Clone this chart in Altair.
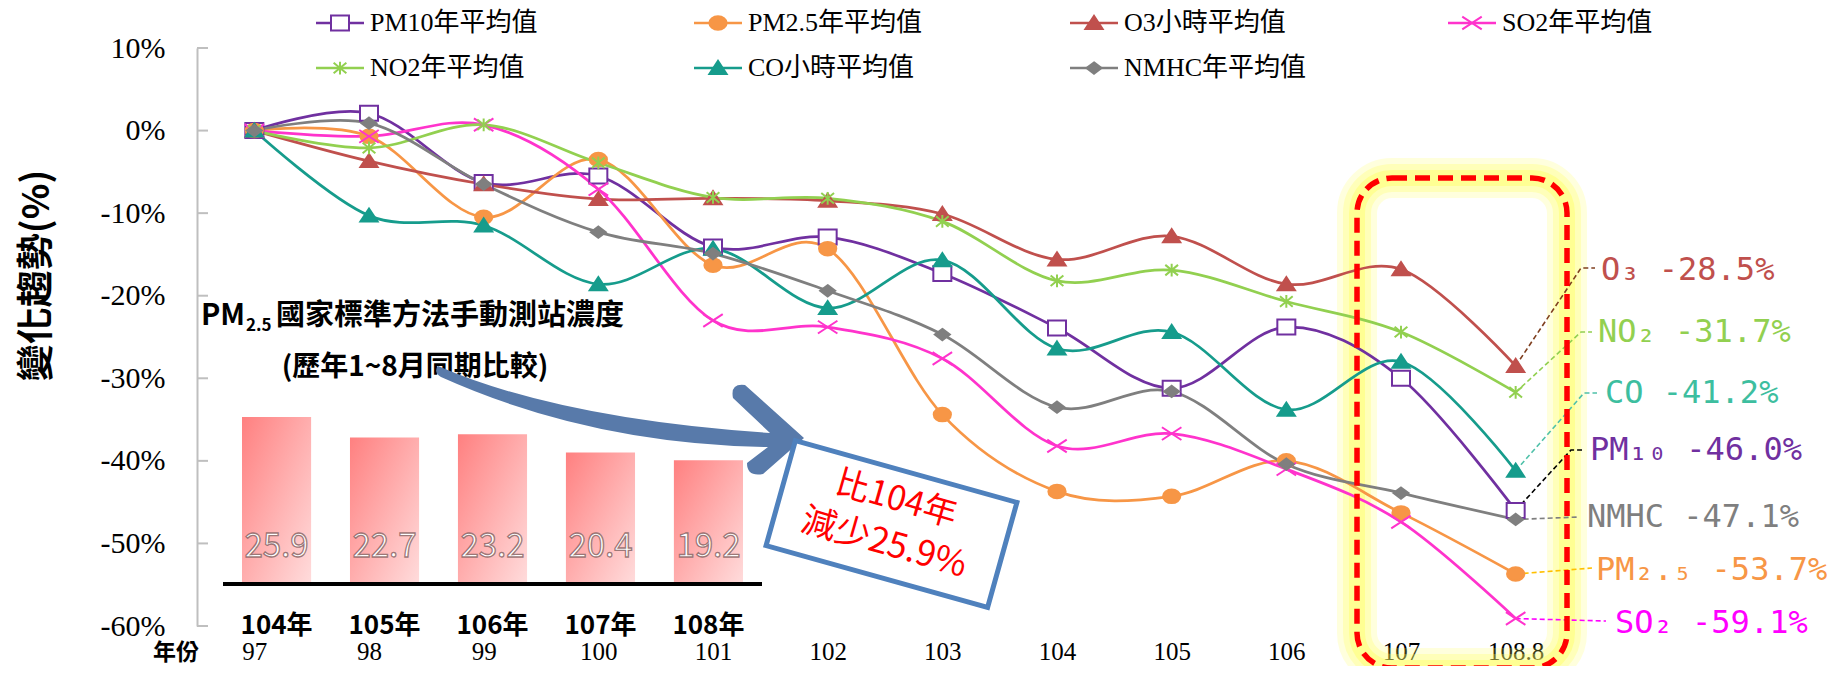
import math
import altair as alt
import pandas as pd

# ---------------- data ----------------
years = ["97", "98", "99", "100", "101", "102", "103", "104", "105", "106", "107", "108.8"]
series_names = ["PM10年平均值", "PM2.5年平均值", "O3小時平均值", "SO2年平均值",
                "NO2年平均值", "CO小時平均值", "NMHC年平均值"]
short_names = ["PM₁₀", "PM₂.₅", "O₃", "SO₂", "NO₂", "CO", "NMHC"]

pm10 = [0, 2.1, -6.3, -5.5, -14.1, -12.9, -17.3, -23.9, -31.2, -23.8, -30.0, -46.0]
pm25 = [0, -0.7, -10.5, -3.5, -16.3, -14.3, -34.4, -43.7, -44.3, -40.0, -46.3, -53.7]
o3 = [0, -3.7, -6.5, -8.3, -8.2, -8.5, -10.1, -15.6, -12.8, -18.6, -16.8, -28.5]
so2 = [0, -0.7, 0.7, -7.1, -23.0, -23.8, -27.6, -38.2, -36.7, -41.0, -47.4, -59.1]
no2 = [0, -2.1, 0.7, -3.9, -8.1, -8.2, -11.0, -18.2, -16.9, -20.7, -24.4, -31.7]
co = [0, -10.3, -11.5, -18.6, -14.3, -21.5, -15.7, -26.4, -24.4, -33.8, -28.0, -41.2]
nmhc = [0, 0.9, -6.5, -12.3, -14.9, -19.4, -24.7, -33.5, -31.6, -40.4, -43.9, -47.1]
series_values = [pm10, pm25, o3, so2, no2, co, nmhc]

bar_years = ["104年", "105年", "106年", "107年", "108年"]
bar_values = [25.9, 22.7, 23.2, 20.4, 19.2]

y_ticks = [10, 0, -10, -20, -30, -40, -50, -60]

# ---------------- styles / layout ----------------
SERIF = "Liberation Serif, Noto Sans CJK TC"
CJK = "Noto Sans CJK TC"
MONO = "DejaVu Sans Mono"

line_colors = ["#7030A0", "#F79646", "#C0504D", "#FF33CC", "#92D050", "#169C8C", "#7F7F7F"]
label_colors = ["#7030A0", "#F79646", "#C0504D", "#FF00FF", "#92D050", "#3DBE9F", "#7F7F7F"]
leader_colors = ["#000000", "#FFC000", "#7F3F1F", "#FF00FF", "#92D050", "#4FC1A9", "#7F7F7F"]
marker_kinds = ["square", "circle", "tri", "x", "star", "tri", "diamond"]

X0, Y0 = 197, 48          # plot origin on the page
PW, PH = 1376, 578        # plot size


def px2idx(px):
    return -0.5 + (px - X0) / PW * 12


def py2v(py):
    return 10 - (py - Y0) / PH * 70


def f(n):
    return f"{n:.2f}"


def marker(kind):
    if kind == "square":
        return "M-1.2,-1H1.2V1H-1.2Z"
    if kind == "circle":
        return "M-1.15,0A1.15,0.9,0,1,0,1.15,0A1.15,0.9,0,1,0,-1.15,0Z"
    if kind == "tri":
        return "M0,-0.95L1.15,0.8H-1.15Z"
    if kind == "x":
        return "M-1.3,-0.85L1.3,0.85M-1.3,0.85L1.3,-0.85"
    if kind == "star":
        return "M-0.85,-0.7L0.85,0.7M-0.85,0.7L0.85,-0.7M0,-0.85V0.85"
    return "M0,-0.75L1,0L0,0.75L-1,0Z"


point_fill = []
for k, c in zip(marker_kinds, line_colors):
    if k == "square":
        point_fill.append("#FFFFFF")
    elif k in ("x", "star"):
        point_fill.append("transparent")
    else:
        point_fill.append(c)

# ---------------- tables ----------------
rows, prow = [], []
for s, vals, k, c, pf in zip(series_names, series_values, marker_kinds, line_colors, point_fill):
    for i, (yr, val) in enumerate(zip(years, vals)):
        rows.append({"series": s, "idx": i, "year": yr, "v": val})
        prow.append({"series": s, "idx": i, "v": val, "shape": marker(k), "pf": pf, "ps": c})
df = pd.DataFrame(rows)
dfp = pd.DataFrame(prow)

# legend entries (4 columns x 2 rows, page px)
leg_text_x = [370, 748, 1124, 1502]
leg_row_y = [23, 68]
legrows = []
for i, (s, k, c, pf) in enumerate(zip(series_names, marker_kinds, line_colors, point_fill)):
    tx, ty = leg_text_x[i % 4], leg_row_y[i // 4]
    legrows.append({"series": s, "idx": px2idx(tx - 54), "idx2": px2idx(tx - 6),
                    "midx": px2idx(tx - 30), "tidx": px2idx(tx), "v": py2v(ty),
                    "shape": marker(k), "pf": pf, "ps": c})
dleg = pd.DataFrame(legrows)

# leader lines (annotation placement, page px)
leader_pts = {
    "PM10年平均值": [(1571, 450), (1582, 450)],
    "PM2.5年平均值": [(1592, 568)],
    "O3小時平均值": [(1581, 268), (1595, 268)],
    "SO2年平均值": [(1606, 621)],
    "NO2年平均值": [(1581, 332), (1592, 332)],
    "CO小時平均值": [(1584, 393), (1597, 393)],
    "NMHC年平均值": [(1579, 517)],
}
label_pos = {
    "PM10年平均值": (1590, 450), "PM2.5年平均值": (1596, 570), "O3小時平均值": (1601, 270),
    "SO2年平均值": (1615, 623), "NO2年平均值": (1598, 332), "CO小時平均值": (1605, 393),
    "NMHC年平均值": (1587, 517),
}
lrows, trows = [], []
for s, vals, lc, tc, sn in zip(series_names, series_values, leader_colors, label_colors, short_names):
    last = len(vals) - 1
    lrows.append({"series": s, "k": 0, "idx": last, "v": vals[-1], "lc": lc})
    for j, (px, py) in enumerate(leader_pts[s]):
        lrows.append({"series": s, "k": j + 1, "idx": px2idx(px), "v": py2v(py), "lc": lc})
    tx, ty = label_pos[s]
    trows.append({"idx": px2idx(tx), "v": py2v(ty), "label": f"{sn} {vals[-1]:.1f}%", "lc": tc})
dfl = pd.DataFrame(lrows)
dft = pd.DataFrame(trows)

df_box = pd.DataFrame([{"idx": px2idx(1357), "idx2": px2idx(1567), "v": py2v(178), "v2": py2v(668)}])
dfb = pd.DataFrame({"year": bar_years, "val": bar_values})

# ---------------- scales / axes ----------------
labels_js = "[" + ",".join(f"'{y}'" for y in years) + "]"
xaxis = alt.Axis(values=list(range(len(years))), labelExpr=labels_js + "[datum.value]",
                 labelFont=SERIF, labelFontSize=25, labelColor="#000000", labelPadding=25,
                 labelBaseline="middle", ticks=False, tickSize=0, domain=False, grid=False,
                 title=None, labelFlush=False, labelOverlap=False)
yaxis = alt.Axis(values=y_ticks, labelExpr="datum.value + '%'", labelFont=SERIF,
                 labelFontSize=30, labelColor="#000000", labelPadding=32, ticks=False,
                 tickSize=0, grid=False, domainColor="#BFBFBF", domainWidth=2,
                 title="變化趨勢(%)", titleFont=CJK, titleFontSize=37, titleFontWeight="bold",
                 titleColor="#000000", titleX=-160, titleY=227, titleAngle=270,
                 titleAlign="center", titleBaseline="middle")
xscale = alt.Scale(domain=[-0.5, 11.5], nice=False, zero=False)
yscale = alt.Scale(domain=[-60, 10], nice=False, zero=False)


def X(field="idx"):
    return alt.X(f"{field}:Q", scale=xscale, axis=xaxis)


def Y():
    return alt.Y("v:Q", scale=yscale, axis=yaxis)


# ---------------- main layers ----------------
glows = [
    alt.Chart(df_box).mark_rect(fillOpacity=0, stroke="#FFFF66", strokeWidth=w,
                                strokeOpacity=o, cornerRadius=35)
    .encode(x=X(), x2="idx2:Q", y=Y(), y2="v2:Q")
    for w, o in [(40, 0.22), (28, 0.3), (16, 0.45)]
]

lines = alt.Chart(df).mark_line(interpolate="cardinal", strokeWidth=2.75).encode(
    x=X(), y=Y(),
    color=alt.Color("series:N", scale=alt.Scale(domain=series_names, range=line_colors),
                    legend=None),
)

leaders = alt.Chart(dfl).mark_line(strokeDash=[5, 3], strokeWidth=1.6).encode(
    x=X(), y=Y(), detail="series:N", order="k:Q",
    stroke=alt.Stroke("lc:N", scale=None),
)

points = alt.Chart(dfp).mark_point(size=225, strokeWidth=2, opacity=1).encode(
    x=X(), y=Y(),
    shape=alt.Shape("shape:N", scale=None),
    fill=alt.Fill("pf:N", scale=None),
    stroke=alt.Stroke("ps:N", scale=None),
)

# legend (line + marker + label for each series)
leg_lines = alt.Chart(dleg).mark_rule(strokeWidth=2.5).encode(
    x=X(), x2="idx2:Q", y=Y(), stroke=alt.Stroke("ps:N", scale=None))
leg_marks = alt.Chart(dleg).mark_point(size=225, strokeWidth=2, opacity=1).encode(
    x=X("midx"), y=Y(),
    shape=alt.Shape("shape:N", scale=None),
    fill=alt.Fill("pf:N", scale=None),
    stroke=alt.Stroke("ps:N", scale=None),
)
leg_text = alt.Chart(dleg).mark_text(align="left", baseline="middle", font=SERIF,
                                     fontSize=26, color="#000000").encode(
    x=X("tidx"), y=Y(), text="series:N")

ticks = alt.Chart(pd.DataFrame({"v": y_ticks})).mark_rule(color="#BFBFBF", strokeWidth=2).encode(
    y=Y(), x=alt.value(0), x2=alt.value(11))

dashed = alt.Chart(df_box).mark_rect(fillOpacity=0, stroke="#FF0000", strokeWidth=5.5,
                                     strokeDash=[15, 8], cornerRadius=35).encode(
    x=X(), x2="idx2:Q", y=Y(), y2="v2:Q")

end_labels = alt.Chart(dft).mark_text(align="left", baseline="middle", font=MONO,
                                      fontSize=32).encode(
    x=X(), y=Y(), text="label:N", fill=alt.Fill("lc:N", scale=None))


# curved arrow (page px, drawn as one symbol path, 1 unit = 1px)
def build_path(cmds, ox, oy):
    out = []
    for c in cmds:
        letter, nums = c[0], c[1:]
        pts = []
        for i in range(0, len(nums), 2):
            pts.append(f"{f(nums[i]-ox)},{f(nums[i+1]-oy)}")
        out.append(letter + " ".join(pts))
    return "".join(out)


AX, AY = 620, 418
arrow_cmds = [
    ("M", 438, 366),
    ("Q", 560, 419, 770, 433),
    ("L", 733, 398),
    ("Q", 730, 383, 745, 385),
    ("L", 804, 438),
    ("L", 763, 474),
    ("Q", 747, 477, 747, 463),
    ("L", 768, 447),
    ("Q", 590, 444, 441, 377),
    ("Q", 433, 372, 438, 366),
    ("Z",),
]
arrow_path = build_path(arrow_cmds, AX, AY)
arrow = alt.Chart(pd.DataFrame({"a": [0]})).mark_point(
    shape=arrow_path, size=4, filled=True, color="#587AAA", opacity=1, strokeWidth=0
).encode(x=alt.value(AX - X0), y=alt.value(AY - Y0))

# rotated box
BCX, BCY, BA, BB, BANG = 891.5, 524, 115, 54.5, math.radians(15.6)
corners = []
for (u, w) in [(-BA, -BB), (BA, -BB), (BA, BB), (-BA, BB)]:
    corners.append((u * math.cos(BANG) - w * math.sin(BANG), u * math.sin(BANG) + w * math.cos(BANG)))
box_path = "M" + "L".join(f"{f(a)},{f(b)}" for a, b in corners) + "Z"
box = alt.Chart(pd.DataFrame({"a": [0]})).mark_point(
    shape=box_path, size=4, filled=True, fill="#FFFFFF", stroke="#4F81BD", strokeWidth=5,
    opacity=1
).encode(x=alt.value(BCX - X0), y=alt.value(BCY - Y0))


def txt(t, x, y, **kw):
    return alt.Chart(pd.DataFrame({"t": [t]})).mark_text(**kw).encode(
        x=alt.value(x - X0), y=alt.value(y - Y0), text="t:N")


texts = [
    txt("PM", 201, 316, align="left", baseline="middle", font=CJK, fontSize=29,
        fontWeight="bold", color="#000000"),
    txt("2.5", 246, 326, align="left", baseline="middle", font=CJK, fontSize=17,
        fontWeight="bold", color="#000000"),
    txt("國家標準方法手動測站濃度", 276, 316, align="left", baseline="middle", font=CJK,
        fontSize=29, fontWeight="bold", color="#000000"),
    txt("(歷年1~8月同期比較)", 415, 368, align="center", baseline="middle", font=CJK,
        fontSize=28, fontWeight="bold", color="#000000"),
    txt("年份", 176, 653, align="center", baseline="middle", font=CJK, fontSize=23,
        fontWeight="bold", color="#000000"),
]
box_texts = [
    txt("比104年", 896, 500, align="center", baseline="middle", font=CJK, fontSize=34,
        angle=16, color="#FF0000"),
    txt("減少25.9%", 884, 543, align="center", baseline="middle", font=CJK, fontSize=35,
        angle=16, color="#FF0000"),
]

main = alt.layer(*glows, lines, leaders, points, ticks, dashed, *texts, arrow, box,
                 *box_texts, end_labels, leg_lines, leg_marks, leg_text)

# ---------------- inset bar chart ----------------
bx = alt.X("year:N", sort=bar_years,
           scale=alt.Scale(domain=bar_years, range=[26, 565], paddingInner=0.36,
                           paddingOuter=0.176), axis=None)
by = alt.Y("val:Q", scale=alt.Scale(domain=[0, 40], range=[536, 278], nice=False, zero=True),
           axis=None)
grad = alt.Gradient(gradient="linear",
                    stops=[alt.GradientStop(color="#FF8080", offset=0),
                           alt.GradientStop(color="#FFDCDC", offset=1)],
                    x1=0, y1=0, x2=1, y2=1)
bars = alt.Chart(dfb).mark_bar(color=grad).encode(x=bx, y=by)
baseline = alt.Chart(pd.DataFrame({"a": [0]})).mark_rule(color="#000000", strokeWidth=4).encode(
    x=alt.value(26), x2=alt.value(565), y=alt.value(536))
vlabels = alt.Chart(dfb).mark_text(font=CJK, fontSize=33, color="#FFFFFF",
                                   stroke="#8A6464", strokeWidth=1.3, strokeOpacity=0.85,
                                   baseline="middle").encode(
    x=bx, y=alt.value(499), text=alt.Text("val:Q", format=".1f"))
catlabels = alt.Chart(dfb).mark_text(font=CJK, fontSize=26, fontWeight="bold",
                                     color="#000000", baseline="middle").encode(
    x=bx, y=alt.value(578), text="year:N")
inset = alt.layer(bars, baseline, vlabels, catlabels)

chart = alt.layer(main, inset).resolve_scale(x="independent", y="independent").properties(
    width=PW, height=PH,
    padding={"left": 189, "top": 40, "right": 254, "bottom": 40},
    autosize=alt.AutoSizeParams(type="none"),
).configure_view(stroke=None)

chart.save("out.html", embed_options={"renderer": "svg", "actions": False})
